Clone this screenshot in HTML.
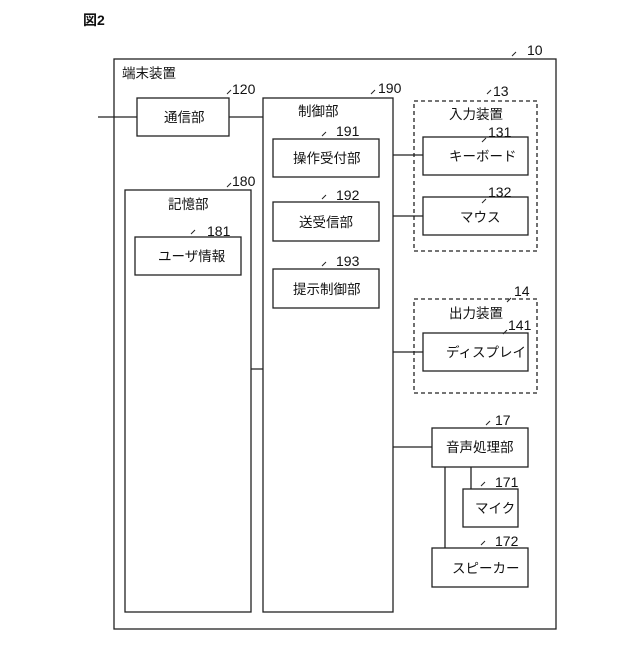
<!DOCTYPE html>
<html><head><meta charset="utf-8"><style>
body{margin:0;background:#fff}
svg text{font-family:"Liberation Sans","Noto Sans CJK JP",sans-serif;font-size:13.5px;fill:#111}
.n{font-size:14px}
</style></head><body>
<svg width="640" height="640" viewBox="0 0 640 640" xmlns="http://www.w3.org/2000/svg">
<g fill="none" stroke="#222" stroke-width="1.3">
<rect x="114" y="59" width="442" height="570"/>
<rect x="137" y="98" width="92" height="38"/>
<rect x="263" y="98" width="130" height="514"/>
<rect x="273" y="139" width="106" height="38"/>
<rect x="273" y="202" width="106" height="39"/>
<rect x="273" y="269" width="106" height="39"/>
<rect x="125" y="190" width="126" height="422"/>
<rect x="135" y="237" width="106" height="38"/>
<rect x="414" y="101" width="123" height="150" stroke-dasharray="4,3"/>
<rect x="423" y="137" width="105" height="38"/>
<rect x="423" y="197" width="105" height="38"/>
<rect x="414" y="299" width="123" height="94" stroke-dasharray="4,3"/>
<rect x="423" y="333" width="105" height="38"/>
<rect x="432" y="428" width="96" height="39"/>
<rect x="463" y="489" width="55" height="38"/>
<rect x="432" y="548" width="96" height="39"/>
<path d="M98 117H137M229 117H263M393 155H423M393 216H423M251 369H263M393 352H423M393 447H432M471 467V489M445 467V548"/>
<path d="M512 56l4-4M487 94l4-4M482 142l4-4M482 203l4-4M507 302l4-4M503 334l4-4M227 94l4-4M371 94l4-4M322 136l4-4M322 199l4-4M322 266l4-4M227 187l4-4M191 234l4-4M486 425l4-4M481 486l4-4M481 545l4-4" stroke-width="1"/>
</g>
<text x="83" y="25" style="font-weight:bold;font-size:14px">図2</text>
<text x="122" y="78">端末装置</text>
<text x="164" y="122">通信部</text>
<text x="298" y="116">制御部</text>
<text x="293" y="163">操作受付部</text>
<text x="299" y="227">送受信部</text>
<text x="293" y="294">提示制御部</text>
<text x="168" y="209">記憶部</text>
<text x="158" y="261">ユーザ情報</text>
<text x="449" y="119">入力装置</text>
<text x="449" y="161">キーボード</text>
<text x="460" y="222">マウス</text>
<text x="449" y="318">出力装置</text>
<text x="446" y="357">ディスプレイ</text>
<text x="446" y="452">音声処理部</text>
<text x="475" y="513">マイク</text>
<text x="452" y="573">スピーカー</text>
<g class="n">
<text class="n" x="527" y="55">10</text>
<text class="n" x="232" y="94">120</text>
<text class="n" x="378" y="93">190</text>
<text class="n" x="493" y="96">13</text>
<text class="n" x="336" y="136">191</text>
<text class="n" x="488" y="137">131</text>
<text class="n" x="336" y="200">192</text>
<text class="n" x="488" y="197">132</text>
<text class="n" x="336" y="266">193</text>
<text class="n" x="232" y="186">180</text>
<text class="n" x="207" y="236">181</text>
<text class="n" x="514" y="296">14</text>
<text class="n" x="508" y="330">141</text>
<text class="n" x="495" y="425">17</text>
<text class="n" x="495" y="487">171</text>
<text class="n" x="495" y="546">172</text>
</g>
</svg>
</body></html>
